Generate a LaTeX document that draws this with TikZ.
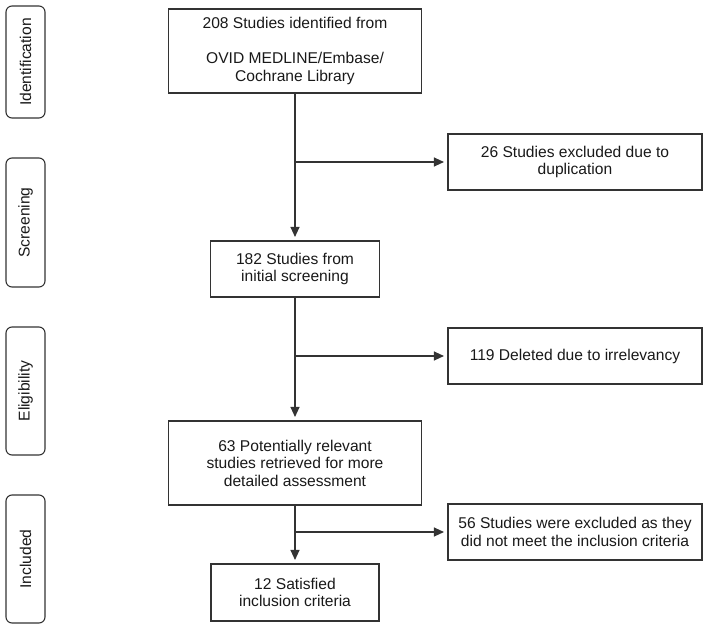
\documentclass[tikz,border=0pt]{standalone}
\usepackage{fontspec}
\setmainfont{Liberation Sans}
\usetikzlibrary{arrows.meta}
\begin{document}
\begin{tikzpicture}[x=1pt,y=-1pt,
  every node/.style={font=\fontsize{15.6pt}{17.5pt}\selectfont, text=black!90},
  box/.style={draw=black!80, line width=1.1pt, align=center, inner sep=2pt},
  phase/.style={draw=black!80, line width=1.1pt, rounded corners=6pt, rotate=90, minimum height=39pt, inner sep=0pt},
  link/.style={draw=black!80, line width=1.1pt, -{Triangle[length=10pt,width=9pt]}, shorten >=3.5pt},
  plain/.style={draw=black!80, line width=1.1pt}]
\useasboundingbox (0,0) rectangle (708,631);
% phase labels
\node[phase, minimum width=112pt] (s1) at (25.5,62) {Identification};
\node[phase, minimum width=129pt] (s2) at (25.5,222.5) {Screening};
\node[phase, minimum width=128pt] (s3) at (25.5,391) {Eligibility};
\node[phase, minimum width=128pt] (s4) at (25.5,559) {Included};
% main boxes
\node[box, minimum width=253pt, minimum height=84pt] (b1) at (295,51) {208 Studies identified from\\[17.5pt]OVID MEDLINE/Embase/\\Cochrane Library};
\node[box, minimum width=169pt, minimum height=56pt] (b3) at (295,269) {182 Studies from\\initial screening};
\node[box, minimum width=253pt, minimum height=84pt] (b5) at (295,463) {63 Potentially relevant\\studies retrieved for more\\detailed assessment};
\node[box, minimum width=168pt, minimum height=57pt] (b7) at (295,592.5) {12 Satisfied\\inclusion criteria};
% exclusion boxes
\node[box, minimum width=254pt, minimum height=56pt] (b2) at (575,162) {26 Studies excluded due to\\duplication};
\node[box, minimum width=254pt, minimum height=56pt] (b4) at (575,356) {119 Deleted due to irrelevancy};
\node[box, minimum width=254pt, minimum height=56pt] (b6) at (575,532) {56 Studies were excluded as they\\did not meet the inclusion criteria};
% junctions
\coordinate (j1) at (b1.south |- b2.west);
\coordinate (j2) at (b3.south |- b4.west);
\coordinate (j3) at (b5.south |- b6.west);
% connectors
\draw[link] (b1.south) -- (b3.north);
\draw[link] (j1) -- (b2.west);
\draw[link] (b3.south) -- (b5.north);
\draw[link] (j2) -- (b4.west);
\draw[link] (b5.south) -- (b7.north);
\draw[link] (j3) -- (b6.west);
\end{tikzpicture}
\end{document}
